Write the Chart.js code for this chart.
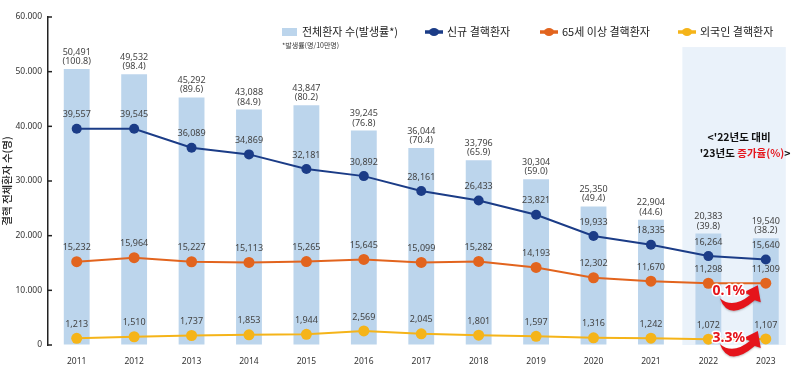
<!DOCTYPE html>
<html><head><meta charset="utf-8">
<script src="https://cdn.jsdelivr.net/npm/chart.js@4.4.1/dist/chart.umd.min.js"></script>
<style>html,body{margin:0;padding:0;background:#fff;}canvas{display:block;}</style>
</head><body>
<canvas id="c" width="800" height="365"></canvas>
<script>
const years = ['2011','2012','2013','2014','2015','2016','2017','2018','2019','2020','2021','2022','2023'];
const totalPatients = [50491,49532,45292,43088,43847,39245,36044,33796,30304,25350,22904,20383,19540];
const incidenceRate = ['100.8','98.4','89.6','84.9','80.2','76.8','70.4','65.9','59.0','49.4','44.6','39.8','38.2'];
const newPatients = [39557,39545,36089,34869,32181,30892,28161,26433,23821,19933,18335,16264,15640];
const elderlyPatients = [15232,15964,15227,15113,15265,15645,15099,15282,14193,12302,11670,11298,11309];
const foreignPatients = [1213,1510,1737,1853,1944,2569,2045,1801,1597,1316,1242,1072,1107];
const yTicks = [0,10000,20000,30000,40000,50000,60000];
const seriesNames = ['전체환자 수(발생률*)','신규 결핵환자','65세 이상 결핵환자','외국인 결핵환자'];
const growthLabels = ['0.1%','3.3%'];

const C_BAR='#bcd5ec', C_BLUE='#1b3c87', C_ORANGE='#e2641e', C_YELLOW='#f5b419', C_RED='#e5141b';
const KR = '"Noto Sans CJK KR","Noto Sans",sans-serif';
const NUM = '"Noto Sans","Noto Sans CJK KR",sans-serif';
const fmt = v => v.toLocaleString('en-US');

const deco = {
  id:'deco',
  beforeDatasetsDraw(chart){
    const ctx=chart.ctx, x=chart.scales.x, y=chart.scales.y;
    ctx.save();
    ctx.fillStyle='#eaf2fa';
    const l=x.getPixelForValue(11)-26, r=x.getPixelForValue(12)+20;
    const t=y.getPixelForValue(54500), b=y.getPixelForValue(0);
    ctx.fillRect(l,t,r-l,b-t);
    ctx.restore();
  },
  afterDatasetsDraw(chart){
    const ctx=chart.ctx, x=chart.scales.x, y=chart.scales.y;
    ctx.save();
    ctx.strokeStyle='#222'; ctx.lineWidth=1.5;
    yTicks.forEach(v=>{const py=y.getPixelForValue(v);ctx.beginPath();ctx.moveTo(x.left,py);ctx.lineTo(x.left+4,py);ctx.stroke();});
    ctx.fillStyle='#444'; ctx.font='9px '+NUM; ctx.textAlign='center'; ctx.textBaseline='middle';
    const barMeta=chart.getDatasetMeta(0);
    barMeta.data.forEach((el,i)=>{
      ctx.fillText(fmt(totalPatients[i]), el.x, el.y-17);
      ctx.fillText('('+incidenceRate[i]+')', el.x, el.y-7.5);
    });
    [1,2,3].forEach(di=>{
      const meta=chart.getDatasetMeta(di);
      const arr=chart.data.datasets[di].data;
      meta.data.forEach((el,i)=>{ ctx.fillText(fmt(arr[i]), el.x, el.y-14); });
    });
    const mid=(x.getPixelForValue(11)+x.getPixelForValue(12))/2;
    ctx.font='bold 10.5px '+KR; ctx.fillStyle='#111'; ctx.textAlign='center';
    ctx.fillText("<'22년도 대비", mid+2, 137);
    const p1="'23년도 ", p2="증가율(%)", p3=">";
    const w1=ctx.measureText(p1).width, w2=ctx.measureText(p2).width, w3=ctx.measureText(p3).width;
    let sx=mid+8-(w1+w2+w3)/2; ctx.textAlign='left';
    ctx.fillText(p1,sx,153); ctx.fillStyle=C_RED; ctx.fillText(p2,sx+w1,153); ctx.fillStyle='#111'; ctx.fillText(p3,sx+w1+w2,153);
    const drawArrow=(tx,ty)=>{
      ctx.save(); ctx.translate(tx,ty); ctx.fillStyle=C_RED;
      ctx.shadowColor='rgba(0,0,0,0.25)'; ctx.shadowBlur=2; ctx.shadowOffsetY=1;
      ctx.beginPath();
      ctx.moveTo(-37,10);
      ctx.quadraticCurveTo(-28,34,-2,12);
      ctx.lineTo(4,14); ctx.lineTo(1,-3); ctx.lineTo(-13,4); ctx.lineTo(-7,7);
      ctx.quadraticCurveTo(-24,21,-37,10);
      ctx.closePath(); ctx.fill(); ctx.restore();
    };
    const o=chart.getDatasetMeta(2).data[12], f=chart.getDatasetMeta(3).data[12];
    drawArrow(o.x-9, o.y+5);
    drawArrow(f.x-9, f.y-5);
    ctx.font='bold 14px '+NUM; ctx.textAlign='center'; ctx.textBaseline='middle';
    ctx.lineWidth=3; ctx.strokeStyle='#fff'; ctx.lineJoin='round';
    [[growthLabels[0],o.x-37,o.y+8],[growthLabels[1],f.x-37,f.y-1]].forEach(([t,px,py])=>{
      ctx.strokeText(t,px,py); ctx.fillStyle=C_RED; ctx.fillText(t,px,py);
    });
    ctx.textAlign='left'; ctx.textBaseline='middle';
    ctx.fillStyle=C_BAR; ctx.fillRect(282,28,15,8);
    ctx.font='11px '+KR; ctx.fillStyle='#222';
    ctx.fillText(seriesNames[0],302,32);
    const lm=(x1,col,label)=>{
      ctx.strokeStyle=col; ctx.lineWidth=3.5; ctx.beginPath(); ctx.moveTo(x1,32); ctx.lineTo(x1+18,32); ctx.stroke();
      ctx.fillStyle=col; ctx.beginPath(); ctx.ellipse(x1+9,32,5,4,0,0,Math.PI*2); ctx.fill();
      ctx.fillStyle='#222'; ctx.fillText(label,x1+22,32);
    };
    lm(425,C_BLUE,seriesNames[1]); lm(540,C_ORANGE,seriesNames[2]); lm(678,C_YELLOW,seriesNames[3]);
    ctx.font='7px '+KR; ctx.fillStyle='#333'; ctx.fillText('*발생률(명/10만명)',282,45);
    ctx.restore();
  }
};

new Chart(document.getElementById('c'),{
  data:{labels:years,datasets:[
    {type:'bar',label:seriesNames[0],data:totalPatients,backgroundColor:C_BAR,barPercentage:0.9,categoryPercentage:0.5,order:4},
    {type:'line',label:seriesNames[1],data:newPatients,borderColor:C_BLUE,backgroundColor:C_BLUE,borderWidth:2,pointRadius:5,pointBorderWidth:0,order:1},
    {type:'line',label:seriesNames[2],data:elderlyPatients,borderColor:C_ORANGE,backgroundColor:C_ORANGE,borderWidth:2,pointRadius:5.5,pointBorderWidth:0,order:2},
    {type:'line',label:seriesNames[3],data:foreignPatients,borderColor:C_YELLOW,backgroundColor:C_YELLOW,borderWidth:2,pointRadius:5.5,pointBorderWidth:0,order:3}
  ]},
  options:{
    responsive:false,animation:false,
    layout:{padding:{top:17,right:4,left:0,bottom:0}},
    plugins:{legend:{display:false},tooltip:{enabled:false}},
    scales:{
      x:{grid:{display:false},border:{display:false},
         ticks:{color:'#333',font:{family:NUM,size:8.5},padding:3,maxRotation:0},
         afterFit(s){s.height=20;}},
      y:{min:0,max:60000,
         afterBuildTicks(s){s.ticks=yTicks.map(v=>({value:v}));},
         grid:{display:true,drawOnChartArea:false,drawTicks:false},
         border:{display:true,color:'#222',width:1.5},
         ticks:{color:'#333',font:{family:NUM,size:8.5},padding:6,callback:v=>fmt(v).replace(/,/g,'.')},
         title:{display:true,text:'결핵 전체환자 수(명)',color:'#222',font:{family:KR,size:10.5,weight:'500'},padding:{top:1,bottom:0}},
         afterFit(s){s.width=48;}}
    }
  },
  plugins:[deco]
});
</script>
</body></html>
